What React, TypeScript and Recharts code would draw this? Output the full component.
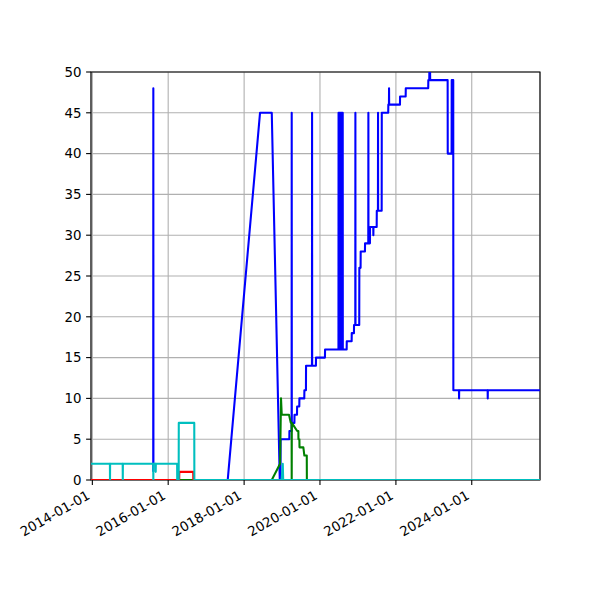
import React from 'react';
import { LineChart, Line, XAxis, YAxis, CartesianGrid, ReferenceArea } from 'recharts';

// x range and ticks
const xStart = '2013-12-19';
const xEnd = '2025-10-19';
const xTickDates = ['2014-01-01', '2016-01-01', '2018-01-01', '2020-01-01', '2022-01-01', '2024-01-01'];
const yTicks = [0, 5, 10, 15, 20, 25, 30, 35, 40, 45, 50];

// blue series (null = gap)
const blueDates = [
  '2015-08-10', '2015-08-11', '2015-08-12',
  '2016-06-01',
  '2017-07-27', '2018-06-03', '2018-09-24', '2018-12-10', '2018-12-17', '2018-12-18',
  '2019-03-12', '2019-03-13', '2019-04-03', '2019-04-04', '2019-04-05', '2019-04-30',
  '2019-05-01', '2019-05-25', '2019-05-26', '2019-06-16', '2019-06-17', '2019-08-03',
  '2019-08-04', '2019-08-19', '2019-08-20', '2019-10-16', '2019-10-17', '2019-10-18',
  '2019-11-23', '2019-11-24', '2020-02-18', '2020-02-19',
  '2020-06-27', '2020-06-28', '2020-06-29', '2020-07-05', '2020-07-06', '2020-07-07',
  '2020-07-13', '2020-07-14', '2020-07-15', '2020-07-21', '2020-07-22', '2020-07-23',
  '2020-07-29', '2020-07-30', '2020-07-31', '2020-08-06', '2020-08-07', '2020-08-08',
  '2020-09-14', '2020-09-15', '2020-11-01', '2020-11-02', '2020-11-23', '2020-11-24',
  '2020-12-06', '2020-12-07', '2020-12-08', '2021-01-13', '2021-01-14', '2021-01-26',
  '2021-01-27', '2021-03-09', '2021-03-10', '2021-04-10', '2021-04-11', '2021-04-12',
  '2021-04-26', '2021-04-27', '2021-05-28', '2021-05-29', '2021-05-30', '2021-06-30',
  '2021-07-01', '2021-07-12', '2021-07-13', '2021-07-14', '2021-08-17', '2021-08-18',
  '2021-10-19', '2021-10-20', '2021-10-26', '2021-10-27', '2021-10-28', '2022-02-09',
  '2022-02-10', '2022-04-05', '2022-04-06', '2022-11-08', '2022-11-09', '2022-11-18',
  '2022-11-19', '2022-11-26', '2022-11-27', '2023-05-14', '2023-05-15', '2023-06-21',
  '2023-06-22', '2023-07-07', '2023-07-08', '2023-08-31', '2023-09-01', '2023-09-02',
  '2024-06-02', '2024-06-03', '2024-06-04', '2025-10-19',
];
const blueValues = [
  1, 48, 1,
  null,
  0, 45, 45, 0, 0, 5,
  5, 6, 6, 45, 7, 7,
  8, 8, 9, 9, 10, 10,
  11, 11, 14, 14, 45, 14,
  14, 15, 15, 16,
  16, 45, 16, 16, 45, 16,
  16, 45, 16, 16, 45, 16,
  16, 45, 16, 16, 45, 16,
  16, 17, 17, 18, 18, 19,
  19, 45, 19, 19, 26, 26,
  28, 28, 29, 29, 45, 29,
  29, 31, 31, 30, 31, 31,
  33, 33, 45, 33, 33, 45,
  45, 46, 46, 48, 46, 46,
  47, 47, 48, 48, 49, 49,
  50, 50, 49, 49, 40, 40,
  49, 49, 11, 11, 10, 11,
  11, 10, 11, 11,
];

const greenDates = [
  '2013-12-19', '2018-09-24', '2018-12-13', '2018-12-22', '2018-12-29', '2019-03-09',
  '2019-03-26', '2019-04-03', '2019-04-04', '2019-04-05', '2019-05-27', '2019-06-07',
  '2019-06-08', '2019-06-17', '2019-06-18', '2019-07-25', '2019-08-04', '2019-08-27',
  '2019-08-28', '2025-10-19',
];
const greenValues = [0, 0, 2, 10, 8, 8, 7, 7, 0, 7, 6, 6, 5, 5, 4, 4, 3, 3, 0, 0];

const redDates = ['2013-12-19', '2016-04-16', '2016-04-17', '2016-08-29', '2016-08-30', '2025-10-19'];
const redValues = [0, 0, 1, 1, 0, 0];

const cyanDates = [
  '2013-12-19', '2014-06-19', '2014-06-20', '2014-06-21', '2014-10-20', '2014-10-21',
  '2014-10-22', '2015-08-10', '2015-08-11', '2015-08-12', '2015-09-02', '2015-09-03',
  '2015-09-04', '2016-03-27', '2016-03-28', '2016-04-11', '2016-04-12', '2016-09-08',
  '2016-09-09', '2018-12-28', '2019-01-08', '2019-01-12', '2025-10-19',
];
const cyanValues = [2, 2, 0, 2, 2, 0, 2, 2, 0, 2, 2, 1, 2, 2, 0, 0, 7, 7, 0, 0, 2, 0, 0];

const toTime = (d: string) => new Date(d + 'T00:00:00Z').getTime();
const toSeries = (dates: string[], values: (number | null)[]) =>
  dates.map((d, i) => ({ t: toTime(d), v: values[i] }));

const FONT = '"DejaVu Sans", sans-serif';

function XTick(props: any) {
  const { x, payload } = props;
  const label = new Date(payload.value).toISOString().slice(0, 10);
  return (
    <text
      x={x - 1.5}
      y={498}
      transform={`rotate(-30, ${x - 1.5}, 498)`}
      textAnchor="end"
      fontFamily={FONT}
      fontSize={13.33}
      fill="#000"
    >
      {label}
    </text>
  );
}

function YTick(props: any) {
  const { y, payload } = props;
  return (
    <text x={81.5} y={y} dy="0.36em" textAnchor="end" fontFamily={FONT} fontSize={13.33} fill="#000">
      {payload.value}
    </text>
  );
}

export default function App() {
  const t0 = toTime(xStart);
  const t1 = toTime(xEnd);
  const series = [
    { key: 'blue', data: toSeries(blueDates, blueValues), color: '#0000ff' },
    { key: 'green', data: toSeries(greenDates, greenValues), color: '#008000' },
    { key: 'red', data: toSeries(redDates, redValues), color: '#ff0000' },
    { key: 'cyan', data: toSeries(cyanDates, cyanValues), color: '#00bfbf' },
  ];

  return (
    <div style={{ position: 'absolute', left: 0, top: 0, width: 600, height: 600, background: '#fff' }}>
      <LineChart width={600} height={600} margin={{ top: 72, right: 60, bottom: 0, left: 0 }}>
        <CartesianGrid stroke="#b0b0b0" strokeWidth={1.1} />
        <XAxis
          dataKey="t"
          type="number"
          domain={[t0, t1]}
          allowDataOverflow
          ticks={xTickDates.map(toTime)}
          tick={<XTick />}
          tickLine={{ stroke: '#000', strokeWidth: 1.1 }}
          tickSize={4.9}
          axisLine={false}
          height={120}
          interval={0}
        />
        <YAxis
          type="number"
          domain={[0, 50]}
          ticks={yTicks}
          tick={<YTick />}
          tickLine={{ stroke: '#000', strokeWidth: 1.1 }}
          tickSize={4.9}
          axisLine={false}
          width={91}
          interval={0}
          allowDataOverflow
        />
        {series.map(s => (
          <Line
            key={s.key}
            data={s.data}
            dataKey="v"
            type="linear"
            stroke={s.color}
            strokeWidth={2.08}
            strokeLinejoin="round"
            dot={false}
            activeDot={false}
            connectNulls={false}
            isAnimationActive={false}
          />
        ))}
        <ReferenceArea
          x1={t0}
          x2={t1}
          y1={0}
          y2={50}
          fill="none"
          stroke="#000"
          strokeWidth={1.1}
          ifOverflow="visible"
        />
      </LineChart>
    </div>
  );
}
